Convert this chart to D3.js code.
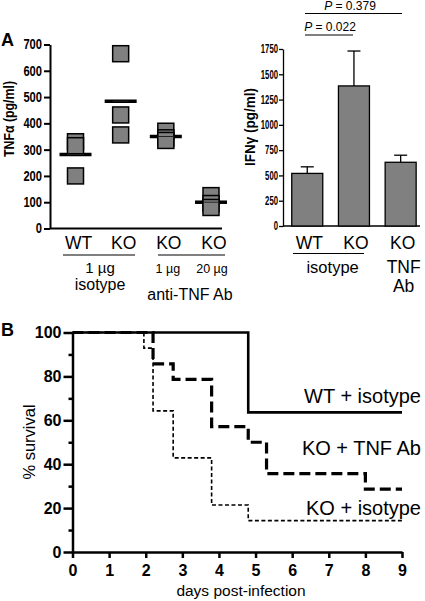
<!DOCTYPE html>
<html><head><meta charset="utf-8">
<script src="https://cdn.jsdelivr.net/npm/d3@7"></script>
<style>
body{margin:0;background:#fff}
svg{display:block}
text{font-family:"Liberation Sans",Arial,Helvetica,sans-serif;fill:#000}
</style>
</head><body>
<svg id="c" width="425" height="601"></svg>
<script>
// ---------- Panel A (left): TNFα ----------
const tnfGroups = ["WT", "KO", "KO 1ug", "KO 20ug"];
const tnfGroupLabels = ["WT", "KO", "KO", "KO"];
const tnfValues = [[330, 315, 200], [665, 432, 356], [370, 335, 345], [125, 80, 95]];
const tnfTicks = [0, 100, 200, 300, 400, 500, 600, 700];

// ---------- Panel A (right): IFNγ ----------
const ifnGroups = ["WT", "KO", "KO TNF Ab"];
const ifnGroupLabels = ["WT", "KO", "KO"];
const ifnMeans = [520, 1385, 630];
const ifnUpper = [585, 1730, 700];
const ifnTicks = [0, 250, 500, 750, 1000, 1250, 1500, 1750];
const pLabels = ["P = 0.022", "P = 0.379"];

// ---------- Panel B: survival ----------
const survNames = ["WT + isotype", "KO + TNF Ab", "KO + isotype"];
const wtDays = [0, 4.8, 9];
const wtSurv = [100, 63.6, 63.6];
const koTnfDays = [0, 2.2, 2.75, 3.8, 4.8, 5.3, 8, 9];
const koTnfSurv = [100, 85.7, 78.6, 57.1, 50, 35.7, 28.6, 28.6];
const koIsoDays = [0, 1.95, 2.2, 2.75, 3.8, 4.8, 9];
const koIsoSurv = [100, 92.9, 64.3, 42.9, 21.4, 14.3, 14.3];
const dayTicks = [0, 1, 2, 3, 4, 5, 6, 7, 8, 9];
const survTicks = [0, 10, 20, 30, 40, 50, 60, 70, 80, 90, 100];

const svg = d3.select("#c");
const GREY = "#808080";

function styleAxis(g, w, fs, bold) {
  g.select(".domain").attr("stroke", "#000").attr("stroke-width", w);
  g.selectAll(".tick line").attr("stroke", "#000").attr("stroke-width", w);
  g.selectAll(".tick text").attr("font-size", fs).attr("font-weight", bold ? "bold" : "normal")
    .attr("font-family", '"Liberation Sans",Arial,sans-serif').attr("fill", "#000");
}

// ===== Panel A left =====
const yL = d3.scaleLinear([0, 700], [228.5, 44.5]);
const xL = d3.scalePoint(tnfGroups, [75.5, 211]);
const axL = svg.append("g").attr("transform", "translate(50,0)")
  .call(d3.axisLeft(yL).tickValues(tnfTicks).tickSize(6).tickPadding(2).tickSizeOuter(0));
styleAxis(axL, 2, 14, true);
axL.selectAll(".tick text").attr("textLength", function(){return this.textContent.length * 6.2;}).attr("lengthAdjust", "spacingAndGlyphs");
svg.append("line").attr("x1", 50).attr("x2", 222).attr("y1", yL(0)).attr("y2", yL(0))
  .attr("stroke", "#000").attr("stroke-width", 2);

const gL = svg.append("g");
tnfGroups.forEach((grp, i) => {
  const m = d3.mean(tnfValues[i]);
  const cx = xL(grp);
  gL.append("line").attr("x1", cx - 16).attr("x2", cx + 16).attr("y1", yL(m)).attr("y2", yL(m))
    .attr("stroke", "#000").attr("stroke-width", 3.5);
  tnfValues[i].slice().sort((a, b) => b - a).forEach(v => {
    gL.append("rect").attr("x", cx - 8).attr("y", yL(v) - 8).attr("width", 16).attr("height", 16)
      .attr("fill", GREY).attr("stroke", "#000").attr("stroke-width", 1.5);
  });
  gL.append("line").attr("x1", cx - 8).attr("x2", cx + 8).attr("y1", yL(m)).attr("y2", yL(m))
    .attr("stroke", "#222").attr("stroke-width", 1);
  svg.append("text").attr("x", cx + 3).attr("y", 248.5).attr("text-anchor", "middle")
    .attr("font-size", 17.5).text(tnfGroupLabels[i]);
});
// group annotations
const isoMid = (xL(tnfGroups[0]) + xL(tnfGroups[1])) / 2;
svg.append("line").attr("x1", 63).attr("x2", 135).attr("y1", 255).attr("y2", 255).attr("stroke", "#000").attr("stroke-width", 1.2);
svg.append("text").attr("x", isoMid + 2).attr("y", 272.5).attr("text-anchor", "middle").attr("font-size", 15).text("1 µg");
svg.append("text").attr("x", isoMid + 2).attr("y", 290).attr("text-anchor", "middle").attr("font-size", 16).text("isotype");
svg.append("line").attr("x1", 158).attr("x2", 225).attr("y1", 255).attr("y2", 255).attr("stroke", "#000").attr("stroke-width", 1.2);
svg.append("text").attr("x", xL(tnfGroups[2]) + 2).attr("y", 272.5).attr("text-anchor", "middle").attr("font-size", 12.5).text("1 µg");
svg.append("text").attr("x", xL(tnfGroups[3]) + 1).attr("y", 272.5).attr("text-anchor", "middle").attr("font-size", 12.5).text("20 µg");
svg.append("text").attr("x", 190).attr("y", 300).attr("text-anchor", "middle").attr("font-size", 16).text("anti-TNF Ab");
// y label
svg.append("text").attr("transform", "translate(14,119) rotate(-90)").attr("text-anchor", "middle")
  .attr("font-size", 15).attr("font-weight", "bold").attr("textLength", 76).attr("lengthAdjust", "spacingAndGlyphs")
  .text("TNFα (pg/ml)");
svg.append("text").attr("x", 1).attr("y", 46).attr("font-size", 18).attr("font-weight", "bold").text("A");

// ===== Panel A right =====
const yR = d3.scaleLinear([0, 1750], [226, 49]);
const xR = d3.scaleBand(ifnGroups, [283.9, 424]).paddingInner(0.336).paddingOuter(0.168);
const axR = svg.append("g").attr("transform", "translate(283,0)")
  .call(d3.axisLeft(yR).tickValues(ifnTicks).tickFormat(d3.format("d")).tickSize(4).tickPadding(1).tickSizeOuter(0));
styleAxis(axR, 1.3, 12, true);
axR.selectAll(".tick text").attr("textLength", function(){return this.textContent.length * 4.3;}).attr("lengthAdjust", "spacingAndGlyphs");
svg.append("line").attr("x1", 283).attr("x2", 420).attr("y1", yR(0)).attr("y2", yR(0))
  .attr("stroke", "#000").attr("stroke-width", 1.3);
ifnGroups.forEach((grp, i) => {
  const x0 = xR(grp), bw = xR.bandwidth(), cx = x0 + bw / 2;
  svg.append("line").attr("x1", cx).attr("x2", cx).attr("y1", yR(ifnMeans[i])).attr("y2", yR(ifnUpper[i]))
    .attr("stroke", "#000").attr("stroke-width", 1.3);
  svg.append("line").attr("x1", cx - 6.5).attr("x2", cx + 6.5).attr("y1", yR(ifnUpper[i])).attr("y2", yR(ifnUpper[i]))
    .attr("stroke", "#000").attr("stroke-width", 1.3);
  svg.append("rect").attr("x", x0).attr("y", yR(ifnMeans[i])).attr("width", bw).attr("height", yR(0) - yR(ifnMeans[i]))
    .attr("fill", GREY).attr("stroke", "#000").attr("stroke-width", 1.3);
  svg.append("text").attr("x", cx + 2).attr("y", 248.5).attr("text-anchor", "middle").attr("font-size", 17.5).text(ifnGroupLabels[i]);
});
const isoMidR = (xR(ifnGroups[0]) + xR(ifnGroups[1]) + xR.bandwidth()) / 2;
svg.append("line").attr("x1", 293).attr("x2", 364).attr("y1", 253.5).attr("y2", 253.5).attr("stroke", "#000").attr("stroke-width", 1.2);
svg.append("text").attr("x", isoMidR + 2).attr("y", 273).attr("text-anchor", "middle").attr("font-size", 16.5).text("isotype");
const tnfX = xR(ifnGroups[2]) + xR.bandwidth() / 2 + 3;
svg.append("text").attr("x", tnfX).attr("y", 273).attr("text-anchor", "middle").attr("font-size", 17.5).text("TNF");
svg.append("text").attr("x", tnfX).attr("y", 292).attr("text-anchor", "middle").attr("font-size", 17.5).text("Ab");
// p-values
function pText(x, y, s) {
  const t = svg.append("text").attr("x", x).attr("y", y).attr("text-anchor", "middle").attr("font-size", 12);
  t.append("tspan").attr("font-style", "italic").text(s.slice(0, 1));
  t.append("tspan").text(s.slice(1));
}
svg.append("line").attr("x1", 305).attr("x2", 353).attr("y1", 35).attr("y2", 35).attr("stroke", "#000").attr("stroke-width", 1);
pText(330, 31, pLabels[0]);
svg.append("line").attr("x1", 305).attr("x2", 402).attr("y1", 13.5).attr("y2", 13.5).attr("stroke", "#000").attr("stroke-width", 1);
pText(350, 9.5, pLabels[1]);
svg.append("text").attr("transform", "translate(255,127) rotate(-90)").attr("text-anchor", "middle")
  .attr("font-size", 15).attr("font-weight", "bold").attr("textLength", 78).attr("lengthAdjust", "spacingAndGlyphs")
  .text("IFNγ (pg/ml)");

// ===== Panel B =====
const xB = d3.scaleLinear([0, 9], [72.5, 402]);
const yB = d3.scaleLinear([0, 100], [552, 332.5]);
const axBy = svg.append("g").attr("transform", "translate(72.5,0)")
  .call(d3.axisLeft(yB).tickValues(survTicks).tickFormat(d => d % 20 ? "" : d).tickSize(9).tickPadding(2).tickSizeOuter(0));
styleAxis(axBy, 2.5, 16, true);
axBy.selectAll(".tick").filter(d => d % 20).select("line").attr("x2", -4);
const axBx = svg.append("g").attr("transform", `translate(0,${yB(0)})`)
  .call(d3.axisBottom(xB).tickValues(dayTicks).tickSize(6).tickPadding(7).tickSizeOuter(0));
styleAxis(axBx, 2.5, 16, true);

const line = d3.line().x(d => xB(d[0])).y(d => yB(d[1])).curve(d3.curveStepAfter);
const series = [
  {days: koIsoDays, surv: koIsoSurv, w: 1.6, dash: "4,2.5"},
  {days: koTnfDays, surv: koTnfSurv, w: 3.2, dash: "11,5"},
  {days: wtDays, surv: wtSurv, w: 2.6, dash: null}
];
series.forEach(s => {
  svg.append("path").datum(d3.zip(s.days, s.surv)).attr("d", line)
    .attr("fill", "none").attr("stroke", "#000").attr("stroke-width", s.w)
    .attr("stroke-dasharray", s.dash);
});
const labY = [403, 454.5, 514.5];
survNames.forEach((n, i) => {
  svg.append("text").attr("x", 421).attr("y", labY[i]).attr("text-anchor", "end").attr("font-size", 20).text(n);
});
svg.append("text").attr("transform", "translate(35,442) rotate(-90)").attr("text-anchor", "middle")
  .attr("font-size", 16.5).text("% survival");
svg.append("text").attr("x", 241).attr("y", 596).attr("text-anchor", "middle").attr("font-size", 15.5).text("days post-infection");
svg.append("text").attr("x", 1).attr("y", 336).attr("font-size", 18).attr("font-weight", "bold").text("B");
</script>
</body></html>
